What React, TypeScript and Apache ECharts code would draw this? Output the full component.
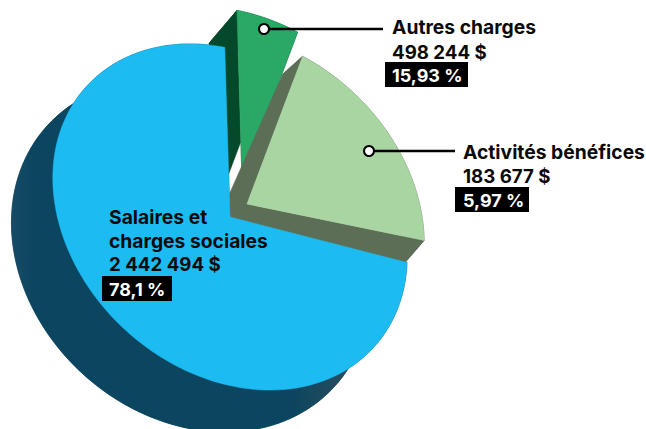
import React, { useEffect, useRef } from "react";
import * as echarts from "echarts";

const categories = ["Salaires et charges sociales", "Autres charges", "Activités bénéfices"];
const amountLabels = ["2 442 494 $", "498 244 $", "183 677 $"];
const percentLabels = ["78,1 %", "15,93 %", "5,97 %"];
// share of the full turn each slice occupies as drawn in the picture (percent)
const drawnShare = [70.5, 6.2, 22.5];

const FONT = "Inter";
const ELL_A = 194, ELL_B = 154, ELL_T = (42 * Math.PI) / 180;
const START = -91.7;

const blueSide = {
  type: "linear", x: 13, y: 0, x2: 360, y2: 0, global: true,
  colorStops: [
    { offset: 0, color: "#174a64" },
    { offset: 0.06, color: "#0b4560" },
    { offset: 0.8, color: "#0b4560" },
    { offset: 1, color: "#30505f" },
  ],
};

const geom: any = {
  0: { c: [230, 217], shift0: [-39, 39], shift1: [-39, 39], outerB: 160, top: "#1cbcf2", side: blueSide, clip: 407, gap: 2.8 },
  1: { c: [242, 180], shift0: [-28, 33], shift1: [-28, 33], top: "#2aa866", side: "#04492a", clip: 999, gap: 0 },
  2: { c: [247, 204], shift0: [-20, 18], shift1: [-19, 22], corners: [[-19, -7], [-19, 13]], top: "#a9d5a2", side: "#5d6e57", clip: 426, gap: 0 },
};

function sliceAngles(i: number) {
  // clockwise on screen from the top: Autres, Activités, (gap), Salaires
  const d = (s: number) => (s / 100) * 360;
  if (i === 1) return [START, START + d(drawnShare[1])];
  if (i === 2) return [START + d(drawnShare[1]), START + d(drawnShare[1]) + d(drawnShare[2])];
  const s = START + d(drawnShare[1]) + d(drawnShare[2]) + geom[0].gap;
  return [s, s + d(drawnShare[0])];
}

function arcPoints(i: number, c: number[], b: number, clip: number) {
  const [a0, a1] = sliceAngles(i);
  const steps = Math.max(8, Math.round((a1 - a0) / 2));
  const pts: number[][] = [];
  for (let k = 0; k <= steps; k++) {
    const phi = ((a0 + ((a1 - a0) * k) / steps) * Math.PI) / 180;
    const q = phi - ELL_T;
    const r = 1 / Math.sqrt((Math.cos(q) / ELL_A) ** 2 + (Math.sin(q) / b) ** 2);
    pts.push([Math.min(c[0] + r * Math.cos(phi), clip), c[1] + r * Math.sin(phi)]);
  }
  return pts;
}

function renderSide(i: number) {
  const g = geom[i];
  const arc = arcPoints(i, g.c, ELL_B, g.clip);
  const n = arc.length - 1;
  const outer = g.outerB
    ? arcPoints(i, [g.c[0] + g.shift0[0], g.c[1] + g.shift0[1]], g.outerB, 9999)
    : arc.map((p, k) => [
        p[0] + g.shift0[0] + ((g.shift1[0] - g.shift0[0]) * k) / n,
        p[1] + g.shift0[1] + ((g.shift1[1] - g.shift0[1]) * k) / n,
      ]);
  const fill = { fill: g.side, stroke: g.side, lineWidth: 0.5 };
  const face = (pts: number[][]) => ({ type: "polygon", shape: { points: pts }, style: fill });
  const corners = g.corners
    ? g.corners.map((o: number[]) => [g.c[0] + o[0], g.c[1] + o[1]])
    : [[g.c[0] + g.shift0[0], g.c[1] + g.shift0[1]]];
  const parts = [face([...arc, ...outer.slice().reverse()]), face([g.c, arc[0], outer[0], ...corners, outer[n], arc[n]])];
  if (g.outerB) parts.push(face([corners[0], ...outer]));
  return parts;
}

function renderTop(i: number) {
  const g = geom[i];
  return {
    type: "polygon",
    shape: { points: [g.c, ...arcPoints(i, g.c, ELL_B, g.clip)] },
    style: { fill: g.top, stroke: g.top, lineWidth: 0.5 },
  };
}

const layers: { i: number; parts: string }[] = [
  { i: 0, parts: "side" },
  { i: 1, parts: "both" },
  { i: 2, parts: "both" },
  { i: 0, parts: "top" },
];

function textBlock(x: number, lines: string[], amount: string, centers: number[], pct: string, box: number[], pctY: number) {
  const txt = (t: string, y: number, size: number, fill: string, z: number) => ({
    type: "text",
    x,
    y,
    z,
    style: { text: t, font: `700 ${size}px ${FONT}`, fill, textVerticalAlign: "middle" },
  });
  return [
    ...lines.map((t, k) => txt(t, centers[k], 19.3, "#0a0a0a", 10)),
    txt(amount, centers[lines.length], 18.7, "#0a0a0a", 10),
    {
      type: "rect",
      z: 10,
      shape: { x: box[0], y: box[1], width: box[2] - box[0], height: box[3] - box[1] },
      style: { fill: "#000" },
    },
    txt(pct, pctY, 18, "#fff", 11),
  ];
}

function leader(x1: number, x2: number, y: number) {
  return [
    { type: "line", z: 12, shape: { x1, y1: y, x2, y2: y }, style: { stroke: "#000", lineWidth: 2.5 } },
    { type: "circle", z: 13, shape: { cx: x1, cy: y, r: 5 }, style: { fill: "#fff", stroke: "#000", lineWidth: 2 } },
  ];
}

export default function App() {
  const ref = useRef<HTMLDivElement>(null);
  useEffect(() => {
    const chart = echarts.init(ref.current!, null, { renderer: "svg" });
    chart.setOption({
      animation: false,
      backgroundColor: "#fff",
      series: layers.map((l, n) => ({
        type: "custom",
        name: categories[l.i] + " " + n,
        coordinateSystem: "none",
        silent: true,
        z: n + 1,
        data: [[drawnShare[l.i]]],
        renderItem: () => {
          const children: any[] = [];
          if (l.parts !== "top") children.push(...renderSide(l.i));
          if (l.parts !== "side") children.push(renderTop(l.i));
          return { type: "group", children };
        },
      })),
      graphic: [
        ...leader(264, 383, 29),
        ...leader(369, 455, 151),
        ...textBlock(392, [categories[1]], amountLabels[1], [27, 52], percentLabels[1], [385, 62, 468, 87], 75),
        ...textBlock(463, [categories[2]], amountLabels[2], [152, 176], percentLabels[2], [455, 187, 529, 212], 200),
        ...textBlock(109, ["Salaires et", "charges sociales"], amountLabels[0], [217, 241, 264], percentLabels[0], [102, 276, 172, 301], 289),
      ],
    });
    return () => chart.dispose();
  }, []);
  return <div ref={ref} style={{ position: "fixed", left: 0, top: 0, width: 646, height: 429 }} />;
}
